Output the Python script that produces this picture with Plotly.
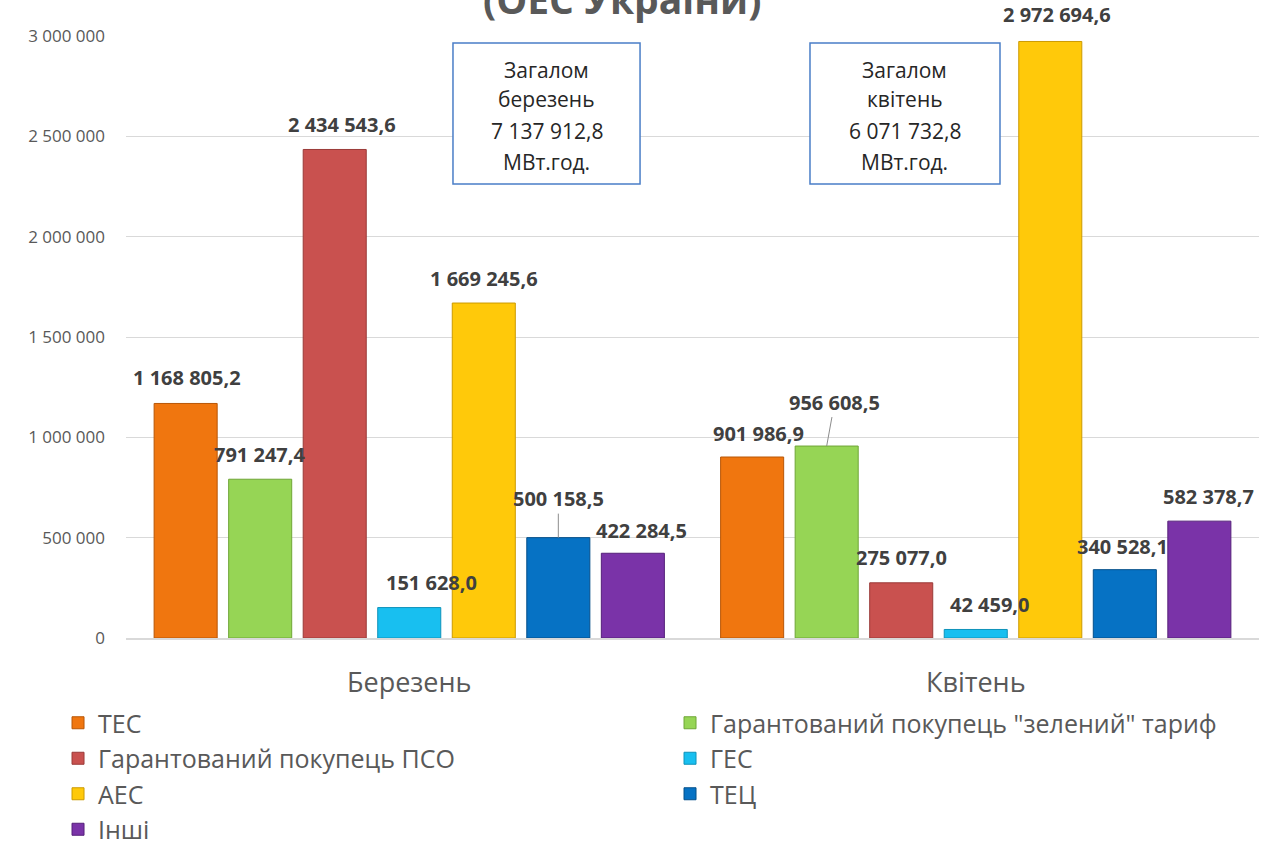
import plotly.graph_objects as go

# ---------------- data ----------------
months = ["Березень", "Квітень"]
months_lower = ["березень", "квітень"]
series_names = ["ТЕС", "Гарантований покупець \"зелений\" тариф", "Гарантований покупець ПСО",
                "ГЕС", "АЕС", "ТЕЦ", "Інші"]
tes = [1168805.2, 901986.9]
green_tariff = [791247.4, 956608.5]
pso = [2434543.6, 275077.0]
ges = [151628.0, 42459.0]
aes = [1669245.6, 2972694.6]
tec = [500158.5, 340528.1]
inshi = [422284.5, 582378.7]
totals = [7137912.8, 6071732.8]
y_tick_vals = [0, 500000, 1000000, 1500000, 2000000, 2500000, 3000000]
title_text = "(ОЕС України)"
box_word = "Загалом"
unit_text = "МВт.год."

series_values = [tes, green_tariff, pso, ges, aes, tec, inshi]

# ---------------- styles ----------------
colors = ["#F0760F", "#96D555", "#C9514F", "#18BFF0", "#FFC90A", "#0672C4", "#7A33A8"]
edge_colors = ["#B85606", "#6FA637", "#9A3A38", "#0E93BA", "#CC9A00", "#044F8A", "#55207A"]
# label offsets in pixels (x shift, y of label centre relative to bar top)
label_dx = [[1, 6], [0, 8], [7, 0], [22, 14], [0, 7], [0, -2], [9, 9]]
label_dy = [[-26, -24], [-25, -44], [-25, -25], [-25, -25], [-25, -27], [-39, -23], [-23, -25]]
leader = [[False, False], [False, True], [False, False], [False, False],
          [False, False], [True, False], [False, False]]

bargap = 0.079
bargroupgap = 0.154
n_series = len(series_values)

FONT = "Open Sans"


def fmt_num(v, decimals=1):
    s = f"{v:,.{decimals}f}"
    return s.replace(",", " ").replace(".", ",")


fig = go.Figure()
for i, (name, vals) in enumerate(zip(series_names, series_values)):
    fig.add_trace(go.Bar(
        name=name, x=months, y=vals,
        marker=dict(color=colors[i], line=dict(color=edge_colors[i], width=1)),
        hoverinfo="skip",
    ))

# data labels
slot = (1 - bargap) / n_series
annotations = []
for i, vals in enumerate(series_values):
    for m, v in enumerate(vals):
        xc = m - (1 - bargap) / 2 + (i + 0.5) * slot
        annotations.append(dict(
            x=xc, y=v, xref="x", yref="y",
            text=fmt_num(v),
            showarrow=True, arrowhead=0, arrowwidth=1, standoff=0,
            arrowcolor="#8C8C8C" if leader[i][m] else "rgba(0,0,0,0)",
            ax=label_dx[i][m], ay=label_dy[i][m],
            font=dict(family=FONT, size=20, color="#404040", weight="bold"),
        ))

# title (partially cut at top, as in the reference)
annotations.append(dict(
    x=0.438, y=1.062, xref="paper", yref="paper", text=title_text,
    showarrow=False, yanchor="middle", xanchor="center",
    font=dict(family=FONT, size=39, color="#595959", weight="bold"),
))

# total boxes
box_x = [(0.2886, 0.4537), (0.6037, 0.7714)]
line_y = [0.9435, 0.8953, 0.8422, 0.7907]
shapes = []
for m in range(len(months)):
    x0, x1 = box_x[m]
    shapes.append(dict(type="rect", xref="paper", yref="paper", x0=x0, x1=x1,
                       y0=0.7542, y1=0.9884, line=dict(color="#4A7EC7", width=1.5),
                       fillcolor="white", layer="above"))
    lines = [box_word, months_lower[m], fmt_num(totals[m]), unit_text]
    for k, t in enumerate(lines):
        annotations.append(dict(
            x=(x0 + x1) / 2, y=line_y[k], xref="paper", yref="paper", text=t,
            showarrow=False, xanchor="center", yanchor="middle",
            font=dict(family=FONT, size=21, color="#262626"),
        ))

fig.update_layout(
    width=1269, height=853,
    margin=dict(l=126, r=10, t=36, b=215, autoexpand=False),
    paper_bgcolor="white", plot_bgcolor="white",
    barmode="group", bargap=bargap, bargroupgap=bargroupgap,
    separators=", ",
    showlegend=True,
    legend=dict(
        orientation="h", x=-0.06, xanchor="left", y=-0.103, yanchor="top",
        entrywidth=567, entrywidthmode="pixels",
        font=dict(family=FONT, size=25, color="#595959"),
        traceorder="normal", itemclick=False,
    ),
    annotations=annotations,
    shapes=shapes,
    xaxis=dict(
        type="category", showgrid=False, showline=True, linecolor="#D9D9D9", linewidth=1.5,
        ticks="", tickfont=dict(family=FONT, size=27, color="#595959"),
        ticklabelstandoff=20, range=[-0.5, 1.5],
    ),
    yaxis=dict(
        range=[0, 3000000], tickvals=y_tick_vals, tickformat=",d",
        showgrid=True, gridcolor="#D9D9D9", gridwidth=1, zeroline=False,
        showline=False, ticks="",
        tickfont=dict(family=FONT, size=17, color="#595959"),
        ticklabelstandoff=20,
    ),
)

fig.write_html("out.html", config={"displayModeBar": False},
               post_script="document.body.style.margin='0px';")
